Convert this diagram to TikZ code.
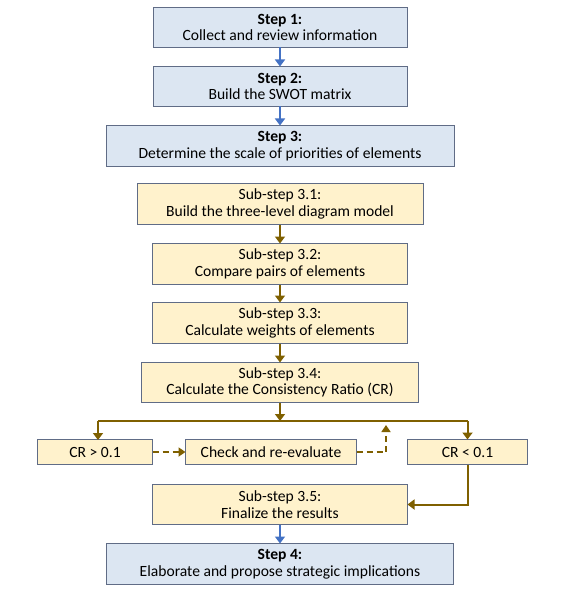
\documentclass[tikz,border=0pt]{standalone}
\usepackage{fontspec}
\setmainfont{Carlito}
\usepackage{tikz}
\usetikzlibrary{arrows.meta,positioning}
\definecolor{stepfill}{RGB}{220,230,242}
\definecolor{subfill}{RGB}{255,242,204}
\definecolor{boxline}{RGB}{96,108,134}
\definecolor{blue2}{RGB}{68,114,196}
\definecolor{gold2}{RGB}{127,96,0}
\tikzset{
  stepbox/.style={draw=boxline, line width=0.9pt, fill=stepfill, inner sep=0pt, outer sep=0pt,
    minimum width=254pt, minimum height=40pt, align=center,
    font=\fontsize{15.6}{16.5}\selectfont},
  subbox/.style={draw=boxline, line width=0.9pt, fill=subfill, inner sep=0pt, outer sep=0pt,
    minimum width=255pt, minimum height=41pt, align=center,
    font=\fontsize{15.6}{16.5}\selectfont},
  crbox/.style={subbox, minimum height=25pt},
  blueflow/.style={-{Triangle[length=7pt,width=10pt]}, draw=blue2, line width=2pt},
  goldflow/.style={-{Triangle[length=7pt,width=10pt]}, draw=gold2, line width=2pt},
  goldline/.style={draw=gold2, line width=2pt},
  backflow/.style={-{Triangle[length=7pt,width=9pt]}, draw=gold2, line width=1.7pt,
    dash pattern=on 6pt off 4pt}
}
\begin{document}
\begin{tikzpicture}[x=1pt, y=-1pt, node distance=19pt]
\useasboundingbox (0,0) rectangle (567,599);
\node[stepbox] (s1) at (280,27.5) {\textbf{Step 1:}\\Collect and review information};
\node[stepbox, below=of s1] (s2) {\textbf{Step 2:}\\Build the SWOT matrix};
\node[stepbox, below=of s2, minimum width=348pt, minimum height=41pt] (s3) {\textbf{Step 3:}\\Determine the scale of priorities of elements};
\node[subbox, below=17pt of s3, minimum width=286pt] (ss1) {Sub-step 3.1:\\Build the three-level diagram model};
\node[subbox, below=of ss1] (ss2) {Sub-step 3.2:\\Compare pairs of elements};
\node[subbox, below=18pt of ss2] (ss3) {Sub-step 3.3:\\Calculate weights of elements};
\node[subbox, below=of ss3, minimum width=277pt, minimum height=40pt] (ss4) {Sub-step 3.4:\\Calculate the Consistency Ratio (CR)};

% decision row
\node[crbox, below=37pt of ss4, xshift=-9pt, minimum width=171pt] (chk) {Check and re-evaluate};
\node[crbox, left=33pt of chk, minimum width=115pt] (cr1) {CR > 0.1};
\node[crbox, right=51pt of chk, minimum width=120pt] (cr2) {CR < 0.1};
\node[subbox, below=20pt of chk, xshift=9pt, minimum height=40pt] (ss5) {Sub-step 3.5:\\Finalize the results};
\node[stepbox, below=of ss5, minimum width=347pt, minimum height=41pt] (s4) {\textbf{Step 4:}\\Elaborate and propose strategic implications};

\coordinate (split) at (ss4.south |- 0,421);
\coordinate (back) at (386,425);

\draw[blueflow] (s1) -- (s2);
\draw[blueflow] (s2) -- (s3);
\draw[goldflow] (ss1) -- (ss2);
\draw[goldflow] (ss2) -- (ss3);
\draw[goldflow] (ss3) -- (ss4);
\draw[goldflow] (ss4) -- (split);
\draw[goldline] (split -| 98,0) -- (split -| cr2.north);
\draw[goldflow] (98,421) -- (98,440);
\draw[goldflow] (split -| cr2.north) -- (cr2.north);
\draw[backflow] (cr1) -- (chk);
\draw[backflow] (chk.east) -| (back);
\draw[goldflow] (cr2.south) |- (ss5.east);
\draw[blueflow] (ss5) -- (s4);
\end{tikzpicture}
\end{document}
